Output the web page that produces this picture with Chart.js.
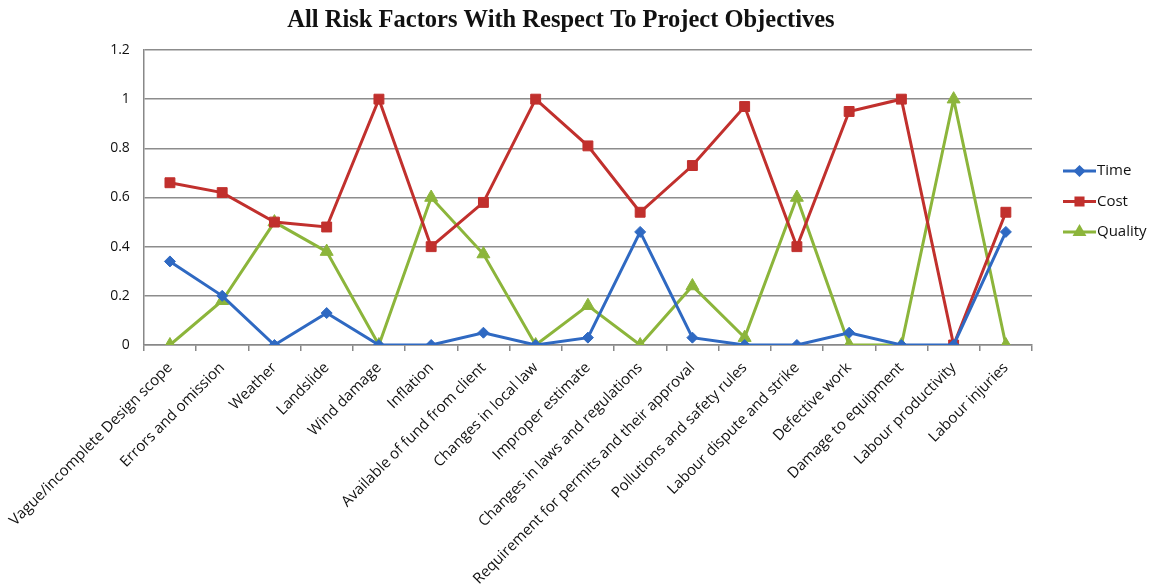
<!DOCTYPE html>
<html>
<head>
<meta charset="utf-8">
<script src="https://cdn.jsdelivr.net/npm/chart.js@4.4.1/dist/chart.umd.min.js"></script>
<style>
  html, body { margin: 0; padding: 0; background: #fff; }
  #wrap { position: relative; width: 1149px; height: 585px; }
</style>
</head>
<body>
<div id="wrap"><canvas id="c" width="1149" height="585"></canvas></div>
<script>
const categories = [
  "Vague/incomplete Design scope", "Errors and omission", "Weather", "Landslide",
  "Wind damage", "Inflation", "Available of fund from client", "Changes in local law",
  "Improper estimate", "Changes in laws and regulations",
  "Requirement for permits and their approval", "Pollutions and safety rules",
  "Labour dispute and strike", "Defective work", "Damage to equipment",
  "Labour productivity", "Labour injuries"
];
const timeValues    = [0.34, 0.20, 0, 0.13, 0, 0, 0.05, 0, 0.03, 0.46, 0.03, 0, 0, 0.05, 0, 0, 0.46];
const costValues    = [0.66, 0.62, 0.50, 0.48, 1.00, 0.40, 0.58, 1.00, 0.81, 0.54, 0.73, 0.97, 0.40, 0.95, 1.00, 0, 0.54];
const qualityValues = [0, 0.18, 0.50, 0.38, 0, 0.60, 0.37, 0, 0.16, 0, 0.24, 0.03, 0.60, 0, 0, 1.00, 0];
const seriesNames = ["Time", "Cost", "Quality"];
const yTicks = { min: 0, max: 1.2, step: 0.2 };
const chartTitle = "All Risk Factors With Respect To Project Objectives";

const colors = ["#2f69c2", "#c1302d", "#8cb53b"];
const styles = ["rectRot", "rect", "triangle"];
const radii = [5.5, 7, 7.5];

const titlePlugin = {
  id: 'customTitle',
  afterDraw(chart) {
    const ctx = chart.ctx;
    ctx.save();
    ctx.font = 'bold 24.5px "Liberation Serif", "Times New Roman", serif';
    ctx.fillStyle = '#111';
    ctx.textAlign = 'center';
    ctx.textBaseline = 'middle';
    ctx.fillText(chartTitle, 561, 21);
    ctx.restore();
  }
};

const legendPlugin = {
  id: 'customLegend',
  afterDraw(chart) {
    const ctx = chart.ctx;
    const x0 = chart.chartArea.right + 31;
    const y0 = 171;
    ctx.save();
    chart.data.datasets.forEach((ds, i) => {
      const y = y0 + i * 30.5;
      ctx.strokeStyle = ds.borderColor;
      ctx.lineWidth = 3;
      ctx.beginPath();
      ctx.moveTo(x0, y);
      ctx.lineTo(x0 + 33, y);
      ctx.stroke();
      ctx.fillStyle = ds.borderColor;
      ctx.strokeStyle = ds.borderColor;
      Chart.helpers.drawPoint(ctx, {
        pointStyle: ds.pointStyle, radius: i === 0 ? 4 : 5, rotation: 0, borderWidth: 1
      }, x0 + 16.5, y);
      ctx.fill();
      ctx.fillStyle = '#111';
      ctx.font = '15px "Open Sans", sans-serif';
      ctx.textAlign = 'left';
      ctx.textBaseline = 'middle';
      ctx.fillText(ds.label, x0 + 34, y);
    });
    ctx.restore();
  }
};

const valueSets = [timeValues, costValues, qualityValues];

new Chart(document.getElementById('c'), {
  type: 'line',
  data: {
    labels: categories,
    datasets: seriesNames.map((name, i) => ({
      label: name,
      data: valueSets[i],
      borderColor: colors[i],
      backgroundColor: colors[i],
      borderWidth: 3,
      pointStyle: styles[i],
      pointRadius: radii[i],
      pointBorderWidth: 1,
      tension: 0,
      fill: false
    }))
  },
  options: {
    responsive: false,
    animation: false,
    devicePixelRatio: 1,
    layout: { padding: { top: 50, right: 117, left: 0, bottom: 0 } },
    plugins: {
      legend: { display: false },
      title: { display: false },
      tooltip: { enabled: false }
    },
    scales: {
      x: {
        offset: true,
        grid: { display: true, drawOnChartArea: false, offset: true, tickLength: 6, color: '#888', lineWidth: 1.5 },
        border: { display: true, color: '#888', width: 1.5 },
        ticks: {
          autoSkip: false, maxRotation: 45, minRotation: 45, padding: 8,
          color: '#111', font: { family: '"Open Sans", sans-serif', size: 15 }
        },
        afterFit(scale) { scale.height = 240; }
      },
      y: {
        min: yTicks.min, max: yTicks.max,
        grid: { color: '#8c8c8c', lineWidth: 1.5, drawTicks: false },
        border: { display: true, color: '#888', width: 1.5 },
        ticks: {
          stepSize: yTicks.step, padding: 14, color: '#111',
          font: { family: '"Open Sans", sans-serif', size: 14 },
          callback: (v) => String(Number(Number(v).toFixed(1)))
        },
        afterFit(scale) { scale.width = 142; }
      }
    }
  },
  plugins: [titlePlugin, legendPlugin]
});
</script>
</body>
</html>
